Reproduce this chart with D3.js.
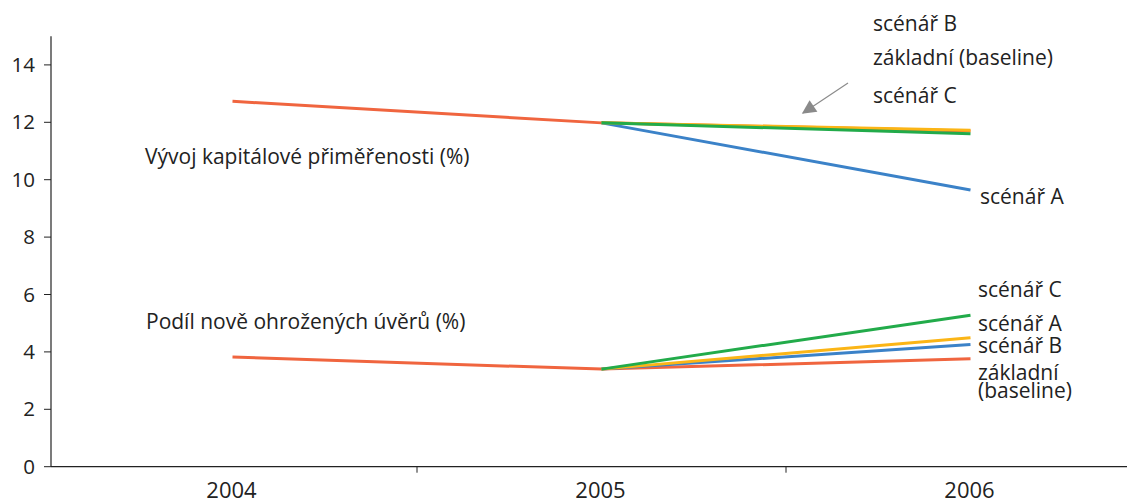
<!DOCTYPE html>
<html>
<head>
<meta charset="utf-8">
<script src="https://cdn.jsdelivr.net/npm/d3@7"></script>
<style>
  html, body { margin: 0; padding: 0; background: #fff; }
  svg { display: block; }
  text { font-family: "Open Sans", "Noto Sans", sans-serif; fill: #222; }
</style>
</head>
<body>
<svg id="chart" width="1127" height="503"></svg>
<script>
// ---- data ----
const years = ["2004", "2005", "2006"];
const yTicks = [0, 2, 4, 6, 8, 10, 12, 14];

// Capital adequacy (%)
const capBaseline = [12.73, 11.98, 11.70];
const capA = [null, 11.98, 9.64];
const capB = [null, 11.98, 11.72];
const capC = [null, 11.98, 11.60];

// Share of new non-performing loans (%)
const nplBaseline = [3.82, 3.40, 3.76];
const nplA = [null, 3.40, 4.26];
const nplB = [null, 3.40, 4.49];
const nplC = [null, 3.40, 5.28];

const seriesColors = { baseline: "#f0653f", A: "#3b82c8", B: "#fbb516", C: "#22ab4a" };

const groupTitles = ["Vývoj kapitálové přiměřenosti (%)", "Podíl nově ohrožených úvěrů (%)"];
const capLabels = ["scénář B", "základní (baseline)", "scénář C", "scénář A"];
const nplLabels = ["scénář C", "scénář A", "scénář B", "základní", "(baseline)"];

// ---- layout ----
const svg = d3.select("#chart");
const x = d3.scaleBand().domain(years).range([48, 1155]);
const y = d3.scaleLinear().domain([0, 15]).range([466.7, 36.2]);
const axisX = 51;
const fs = 21;

// y axis
const gy = svg.append("g").attr("transform", `translate(${axisX},0)`);
gy.append("line").attr("x1", 0).attr("x2", 0).attr("y1", y(15)).attr("y2", y(0))
  .attr("stroke", "#222").attr("stroke-width", 1.2);
gy.selectAll("line.tick").data(yTicks).join("line").attr("class", "tick")
  .attr("x1", -7).attr("x2", 0).attr("y1", d => y(d)).attr("y2", d => y(d))
  .attr("stroke", "#222").attr("stroke-width", 1);
gy.selectAll("text").data(yTicks).join("text")
  .attr("x", -16).attr("y", d => y(d)).attr("dy", "0.35em")
  .attr("text-anchor", "end").attr("font-size", 20.5).text(d => d);

// x axis
const gx = svg.append("g");
gx.append("line").attr("x1", axisX).attr("x2", 1127).attr("y1", y(0)).attr("y2", y(0))
  .attr("stroke", "#222").attr("stroke-width", 1.2);
gx.selectAll("line.tick").data(years.slice(1)).join("line").attr("class", "tick")
  .attr("x1", d => x(d)).attr("x2", d => x(d)).attr("y1", y(0)).attr("y2", y(0) + 6)
  .attr("stroke", "#222").attr("stroke-width", 1);
gx.selectAll("text").data(years).join("text")
  .attr("x", d => x(d) + x.bandwidth() / 2 - 1).attr("y", 498)
  .attr("text-anchor", "middle").attr("font-size", 22).text(d => d);

// lines
const line = d3.line()
  .defined(d => d.v !== null)
  .x(d => x(d.year) + x.bandwidth() / 2)
  .y(d => y(d.v));
function draw(vals, color) {
  svg.append("path")
    .datum(years.map((yr, i) => ({ year: yr, v: vals[i] })))
    .attr("d", line).attr("fill", "none").attr("stroke", color)
    .attr("stroke-width", 3).attr("stroke-linejoin", "round");
}
draw(capBaseline, seriesColors.baseline);
draw(capA, seriesColors.A);
draw(capB, seriesColors.B);
draw(capC, seriesColors.C);
draw(nplBaseline, seriesColors.baseline);
draw(nplA, seriesColors.A);
draw(nplB, seriesColors.B);
draw(nplC, seriesColors.C);

// texts
function label(t, xx, yy) {
  svg.append("text").attr("x", xx).attr("y", yy).attr("font-size", fs).text(t);
}
label(groupTitles[0], 145, 164);
label(groupTitles[1], 146, 329);

label(capLabels[0], 873, 31);
label(capLabels[1], 873, 65);
label(capLabels[2], 873, 103);
label(capLabels[3], 980, 204);

label(nplLabels[0], 978, 297);
label(nplLabels[1], 978, 331);
label(nplLabels[2], 978, 353);
label(nplLabels[3], 978, 380);
label(nplLabels[4], 978, 398);

// arrow
svg.append("defs").append("marker")
  .attr("id", "ah").attr("viewBox", "0 0 10 10").attr("refX", 9).attr("refY", 5)
  .attr("markerWidth", 16).attr("markerHeight", 14).attr("markerUnits", "userSpaceOnUse")
  .attr("orient", "auto")
  .append("path").attr("d", "M0,0 L10,5 L0,10 Z").attr("fill", "#8a8a8a");
svg.append("line").attr("x1", 848).attr("y1", 83).attr("x2", 803).attr("y2", 113)
  .attr("stroke", "#8a8a8a").attr("stroke-width", 1.2).attr("marker-end", "url(#ah)");
</script>
</body>
</html>
